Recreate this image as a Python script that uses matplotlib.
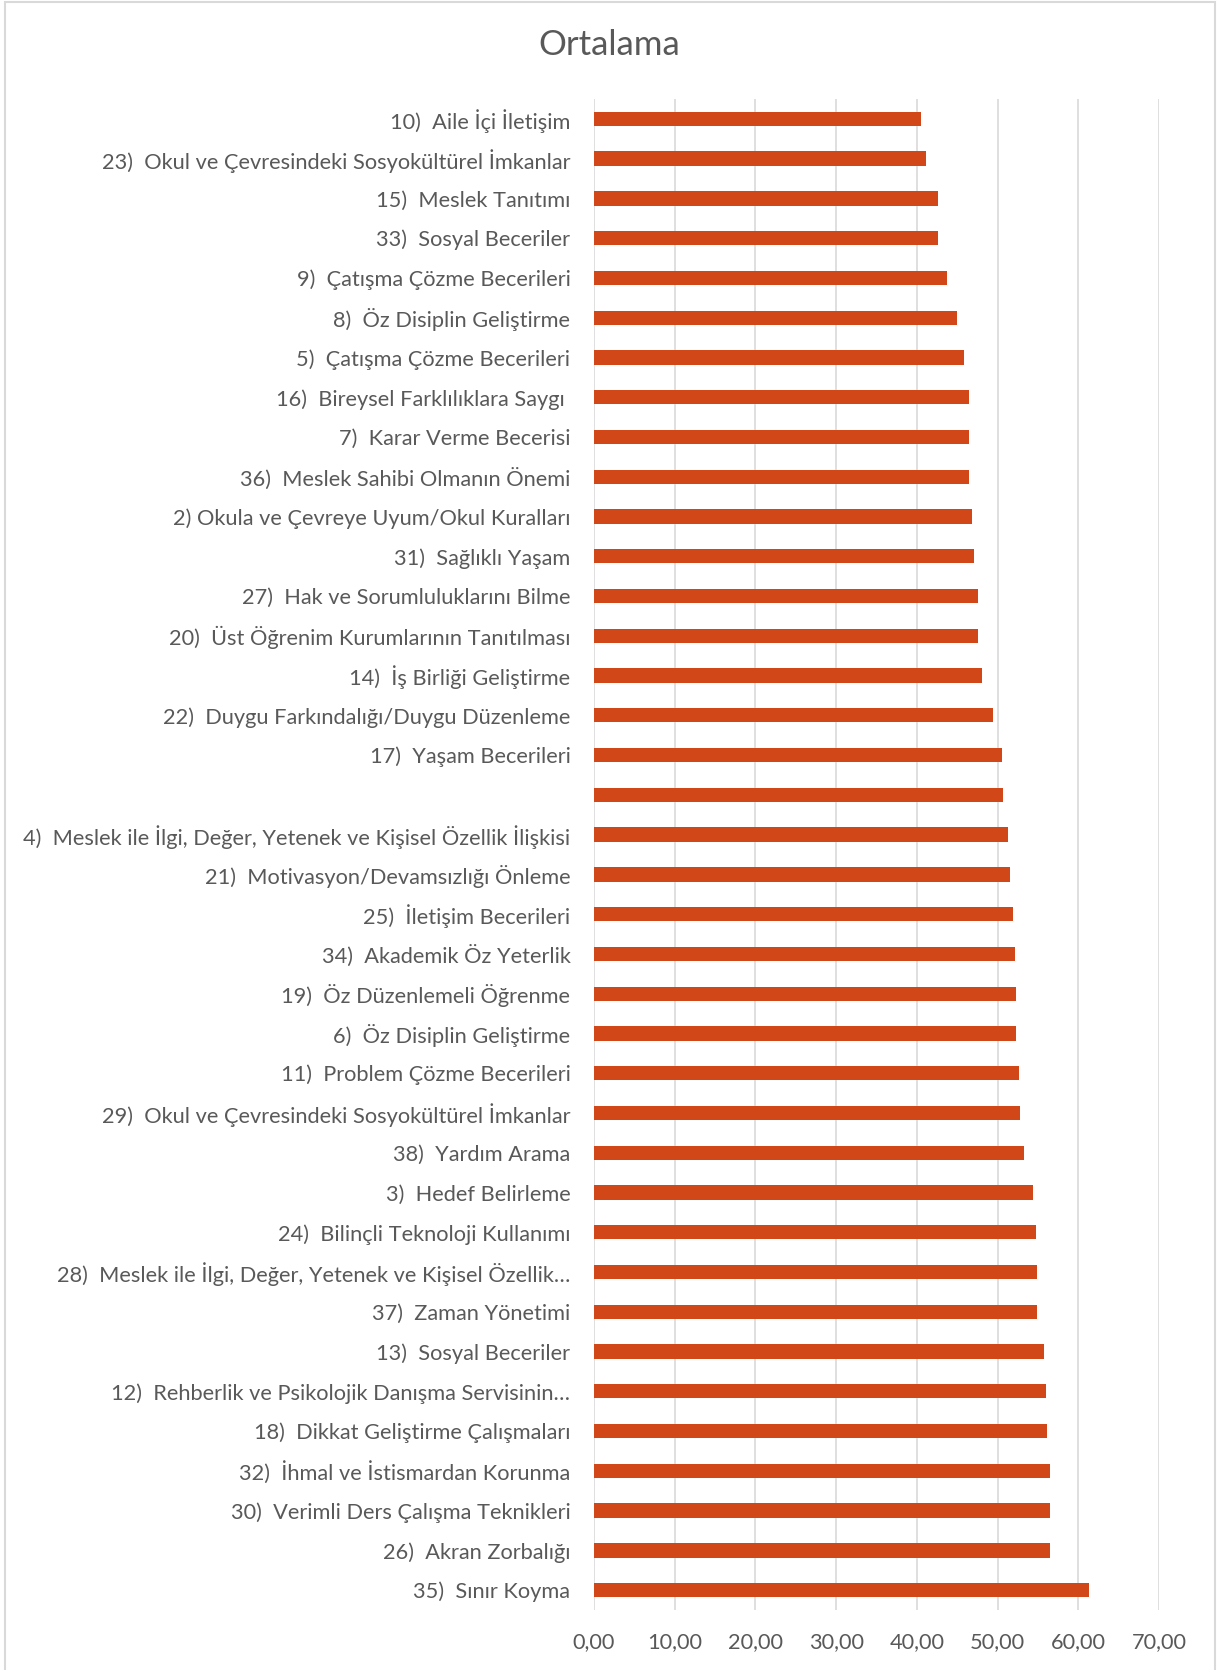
import matplotlib
matplotlib.use("Agg")
import matplotlib.pyplot as plt
from matplotlib.patches import Rectangle

plt.rcParams["font.family"] = ["Lato", "DejaVu Sans"]

# Categories, top to bottom as shown in the chart
labels = [
    "10)  Aile İçi İletişim",
    "23)  Okul ve Çevresindeki Sosyokültürel İmkanlar",
    "15)  Meslek Tanıtımı",
    "33)  Sosyal Beceriler",
    "9)  Çatışma Çözme Becerileri",
    "8)  Öz Disiplin Geliştirme",
    "5)  Çatışma Çözme Becerileri",
    "16)  Bireysel Farklılıklara Saygı ",
    "7)  Karar Verme Becerisi",
    "36)  Meslek Sahibi Olmanın Önemi",
    "2) Okula ve Çevreye Uyum/Okul Kuralları",
    "31)  Sağlıklı Yaşam",
    "27)  Hak ve Sorumluluklarını Bilme",
    "20)  Üst Öğrenim Kurumlarının Tanıtılması",
    "14)  İş Birliği Geliştirme",
    "22)  Duygu Farkındalığı/Duygu Düzenleme",
    "17)  Yaşam Becerileri",
    "",
    "4)  Meslek ile İlgi, Değer, Yetenek ve Kişisel Özellik İlişkisi",
    "21)  Motivasyon/Devamsızlığı Önleme",
    "25)  İletişim Becerileri",
    "34)  Akademik Öz Yeterlik",
    "19)  Öz Düzenlemeli Öğrenme",
    "6)  Öz Disiplin Geliştirme",
    "11)  Problem Çözme Becerileri",
    "29)  Okul ve Çevresindeki Sosyokültürel İmkanlar",
    "38)  Yardım Arama",
    "3)  Hedef Belirleme",
    "24)  Bilinçli Teknoloji Kullanımı",
    "28)  Meslek ile İlgi, Değer, Yetenek ve Kişisel Özellik…",
    "37)  Zaman Yönetimi",
    "13)  Sosyal Beceriler",
    "12)  Rehberlik ve Psikolojik Danışma Servisinin…",
    "18)  Dikkat Geliştirme Çalışmaları",
    "32)  İhmal ve İstismardan Korunma",
    "30)  Verimli Ders Çalışma Teknikleri",
    "26)  Akran Zorbalığı",
    "35)  Sınır Koyma",
]

# Average values
values = [
    40.51, 41.18, 42.59, 42.67, 43.74, 44.99, 45.86, 46.44, 46.48, 46.48,
    46.77, 47.10, 47.60, 47.60, 48.05, 49.46, 50.50, 50.62, 51.33, 51.49,
    51.91, 52.15, 52.28, 52.33, 52.68, 52.84, 53.22, 54.42, 54.75, 54.87,
    54.87, 55.73, 56.03, 56.18, 56.44, 56.44, 56.54, 61.29,
]

xticks = [0, 10, 20, 30, 40, 50, 60, 70]
xtick_labels = ["0,00", "10,00", "20,00", "30,00", "40,00", "50,00", "60,00", "70,00"]

text_color = "#595959"
grid_color = "#D9D9D9"
bar_color = "#D24718"

W, H = 1219, 1670
fig = plt.figure(figsize=(W / 100, H / 100), dpi=100)
ax = fig.add_axes([594 / W, 1 - 1610 / H, 565 / W, (1610 - 99) / H])

pos = list(range(len(labels)))
ax.barh(pos, values, height=0.36, color=bar_color, zorder=3)

ax.set_ylim(len(labels) - 0.5, -0.5)
ax.set_xlim(0, 70)
ax.set_yticks(pos)
ax.set_yticklabels(labels)
ax.set_xticks(xticks)
ax.set_xticklabels(xtick_labels)

ax.grid(axis="x", color=grid_color, linewidth=1.2, zorder=0)
ax.set_axisbelow(True)
for side in ["top", "right", "bottom", "left"]:
    ax.spines[side].set_visible(False)

ax.tick_params(axis="y", length=0, pad=17, labelsize=15.7, labelcolor=text_color)
ax.tick_params(axis="x", length=0, pad=16, labelsize=15.7, labelcolor=text_color)

fig.text(0.5, 1 - 45 / H, "Ortalama", ha="center", va="center",
         fontsize=25, color=text_color)

# Chart frame
fig.add_artist(Rectangle((5 / W, -0.01), 1210 / W, 0.01 + (H - 1.5) / H,
                         transform=fig.transFigure, fill=False,
                         edgecolor=grid_color, linewidth=1.5))

fig.savefig("out.png", dpi=100, facecolor="white")
